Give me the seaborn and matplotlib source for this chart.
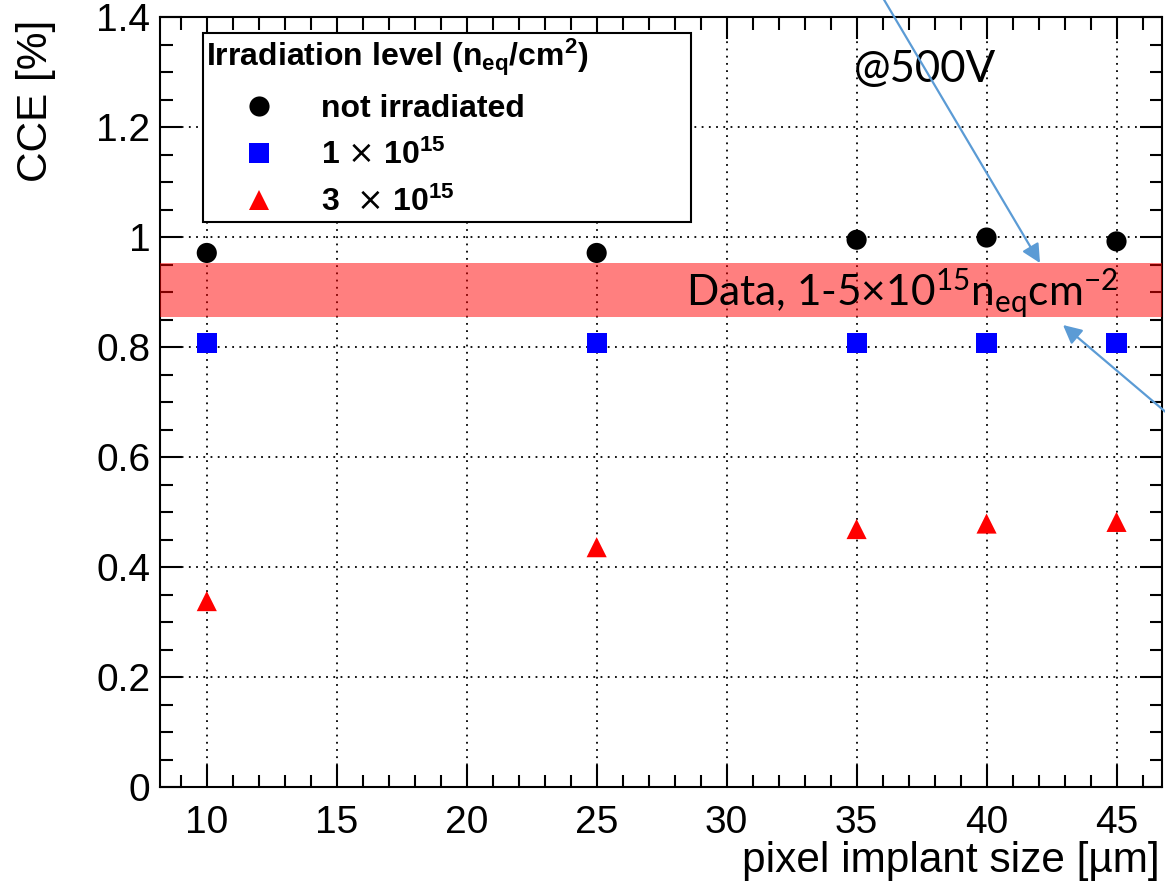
import numpy as np
import pandas as pd
import seaborn as sns
import matplotlib
matplotlib.use("Agg")
import matplotlib.pyplot as plt
from matplotlib.lines import Line2D
from matplotlib.patches import FancyArrowPatch
from matplotlib.ticker import MultipleLocator

# ---- data ----
pixel_sizes = [10, 25, 35, 40, 45]
cce_not_irradiated = [0.971, 0.971, 0.995, 0.999, 0.992]
cce_1e15 = [0.807, 0.807, 0.807, 0.807, 0.807]
cce_3e15 = [0.338, 0.436, 0.469, 0.479, 0.482]
levels = ["not irradiated", "1e15", "3e15"]
legend_labels = ["not irradiated", "1 $\\times$ 10$\\mathregular{^{15}}$", "3  $\\times$ 10$\\mathregular{^{15}}$"]
band_range = [0.855, 0.953]

df = pd.DataFrame({
    "size": pixel_sizes * 3,
    "cce": cce_not_irradiated + cce_1e15 + cce_3e15,
    "level": [levels[0]] * 5 + [levels[1]] * 5 + [levels[2]] * 5,
})

sns.set_style("ticks")
plt.rcParams["font.family"] = ["Liberation Sans", "DejaVu Sans"]
plt.rcParams.update({"text.color": "black", "axes.labelcolor": "black",
                     "xtick.color": "black", "ytick.color": "black",
                     "xtick.labelcolor": "black", "ytick.labelcolor": "black"})

fig = plt.figure(figsize=(11.65, 8.85), dpi=100)
ax = fig.add_axes([160 / 1165, 1 - 787 / 885, 1002 / 1165, 770 / 885])

palette = {levels[0]: "black", levels[1]: "#0000ff", levels[2]: "#ff0000"}
markers = {levels[0]: "o", levels[1]: "s", levels[2]: "^"}
sns.scatterplot(data=df, x="size", y="cce", hue="level", style="level",
                palette=palette, markers=markers, s=210, edgecolor="none",
                legend=False, ax=ax, zorder=3)

ax.set_xlim(8.2, 46.75)
ax.set_ylim(0, 1.4)
ax.xaxis.set_major_locator(MultipleLocator(5))
ax.xaxis.set_minor_locator(MultipleLocator(1))
ax.yaxis.set_major_locator(MultipleLocator(0.2))
ax.yaxis.set_minor_locator(MultipleLocator(0.05))
ax.yaxis.set_major_formatter(matplotlib.ticker.FuncFormatter(lambda v, p: f"{v:g}"))

ax.tick_params(which="both", direction="in", top=True, right=True, width=1.5,
               color="black", labelcolor="black")
ax.tick_params(which="major", length=16, labelsize=28)
ax.tick_params(which="minor", length=9)
ax.tick_params(axis="x", which="major", pad=13)
ax.tick_params(axis="y", which="major", pad=7)
for sp in ax.spines.values():
    sp.set_linewidth(1.5)
    sp.set_color("black")

ax.grid(True, which="major", color="black", linestyle=(0, (1, 3)), linewidth=1.3)
ax.set_axisbelow(True)

ax.set_xlabel("pixel implant size [µm]", fontsize=30.5, loc="right", color="black")
ax.set_ylabel("CCE [%]", fontsize=30.5, loc="top", color="black")
ax.xaxis.set_label_coords(0.998, -0.07)
ax.yaxis.set_label_coords(-0.104, 0.996)

# legend
handles = [Line2D([], [], marker=markers[l], color=palette[l], ls="none", markersize=14.5,
                  markeredgewidth=0) for l in levels]
leg = ax.legend(handles, legend_labels,
                title="Irradiation level (n$\\mathregular{_{eq}}$/cm$\\mathregular{^{2}}$)",
                loc="upper left", bbox_to_anchor=(0.0429, 0.979, 0.487, 0.0), mode="expand",
                prop={"weight": "bold", "size": 23}, title_fontproperties={"weight": "bold", "size": 23},
                alignment="left", frameon=True, fancybox=False, framealpha=1,
                edgecolor="black", borderpad=0.1, labelspacing=0.5, handletextpad=0.3,
                borderaxespad=0, handlelength=3.3)
leg.get_frame().set_linewidth(1.5)
leg.set_zorder(5)

# data band overlay
ax.axhspan(band_range[0], band_range[1], color="red", alpha=0.5, lw=0, zorder=6)
ax.text(45.05, 0.8745, "Data, 1-5×10$\\mathregular{^{15}}$n$\\mathregular{_{eq}}$cm$\\mathregular{^{-2}}$",
        fontsize=30.5, family=["Lato", "DejaVu Sans"], ha="right", va="baseline", zorder=7)
ax.text(0.692, 0.9156, "@500V", transform=ax.transAxes, fontsize=31.5,
        family=["Lato", "DejaVu Sans"], ha="left", va="baseline", zorder=7)

# arrows (figure pixel coords, top-left origin)
def fpt(x, y):
    return (x / 1165, 1 - y / 885)

for start, end in [((883, -2), (1040, 263)), ((1168, 414), (1063, 325))]:
    arr = FancyArrowPatch(fpt(*start), fpt(*end), transform=fig.transFigure,
                          arrowstyle="-|>", mutation_scale=28, color="#5B9BD5",
                          lw=1.6, shrinkA=0, shrinkB=0, zorder=10)
    fig.add_artist(arr)

fig.savefig("out.png", dpi=100)
